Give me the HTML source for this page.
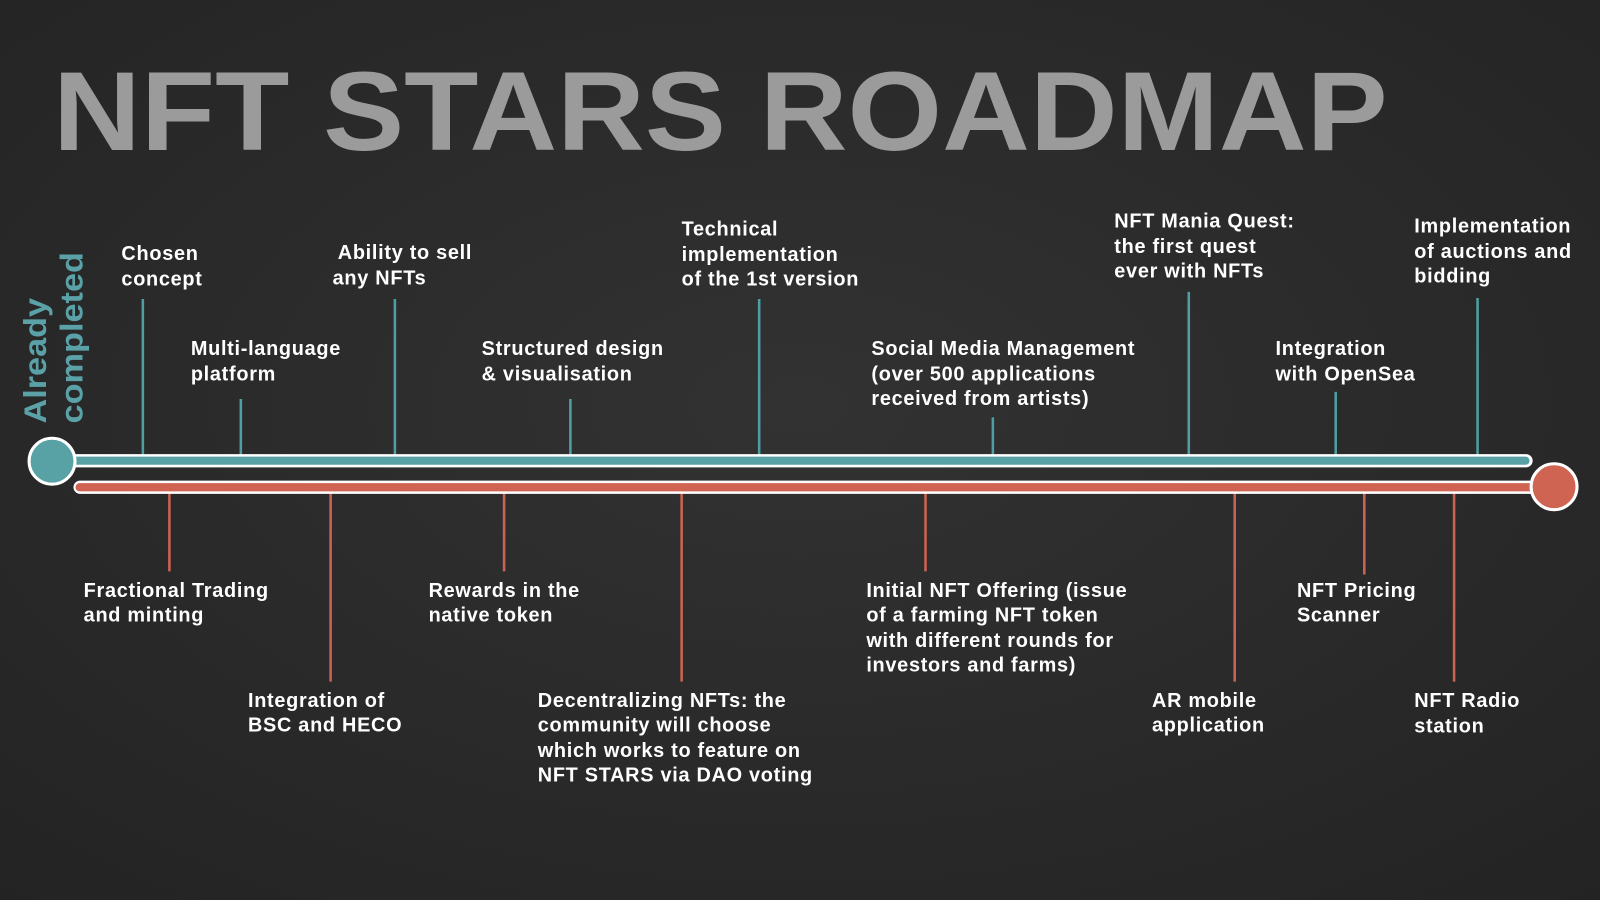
<!DOCTYPE html>
<html><head><meta charset="utf-8"><style>
html,body{margin:0;padding:0;background:#2a2a2a;}
svg{display:block;}
.l{font-family:"Liberation Sans",sans-serif;font-weight:bold;font-size:19.5px;letter-spacing:0.7px;fill:#fff;}
</style></head><body>
<svg width="1600" height="900" viewBox="0 0 1568 882" preserveAspectRatio="none" xmlns="http://www.w3.org/2000/svg">
<defs>
<radialGradient id="bg" cx="50%" cy="45%" r="75%">
<stop offset="0" stop-color="#323232"/><stop offset="1" stop-color="#232323"/>
</radialGradient>
</defs>
<rect width="1568" height="882" fill="url(#bg)"/>
<text x="52" y="147" textLength="1308" lengthAdjust="spacingAndGlyphs" font-family="Liberation Sans,sans-serif" font-weight="bold" font-size="110" fill="#9b9b9b">NFT STARS ROADMAP</text>
<g font-family="Liberation Sans,sans-serif" font-weight="bold" font-size="31" fill="#5aa2a7">
<text transform="translate(45,415) rotate(-90)" textLength="123" lengthAdjust="spacingAndGlyphs">Already</text>
<text transform="translate(81,415) rotate(-90)" textLength="168" lengthAdjust="spacingAndGlyphs">completed</text>
</g>
<g stroke="#4f9ea3" stroke-width="2.5">
<line x1="140" y1="293" x2="140" y2="448"/>
<line x1="236" y1="391" x2="236" y2="448"/>
<line x1="387" y1="293" x2="387" y2="448"/>
<line x1="559" y1="391" x2="559" y2="448"/>
<line x1="744" y1="293" x2="744" y2="448"/>
<line x1="973" y1="409" x2="973" y2="448"/>
<line x1="1165" y1="286" x2="1165" y2="448"/>
<line x1="1309" y1="384" x2="1309" y2="448"/>
<line x1="1448" y1="292" x2="1448" y2="448"/>
</g>
<g stroke="#cc6352" stroke-width="2.5">
<line x1="166" y1="480" x2="166" y2="560"/>
<line x1="324" y1="480" x2="324" y2="668"/>
<line x1="494" y1="480" x2="494" y2="560"/>
<line x1="668" y1="480" x2="668" y2="668"/>
<line x1="907" y1="480" x2="907" y2="560"/>
<line x1="1210" y1="480" x2="1210" y2="668"/>
<line x1="1337" y1="480" x2="1337" y2="563"/>
<line x1="1425" y1="480" x2="1425" y2="668"/>
</g>
<rect x="45" y="445" width="1457" height="13" rx="6.5" fill="#fff"/>
<rect x="47" y="447.5" width="1452" height="8" rx="4" fill="#58a2a6"/>
<rect x="72" y="471" width="1455" height="13" rx="6.5" fill="#fff"/>
<rect x="74" y="473.5" width="1450" height="8" rx="4" fill="#cf6453"/>
<circle cx="51" cy="452" r="22.5" fill="#58a2a6" stroke="#fff" stroke-width="3"/>
<circle cx="1523" cy="477" r="22.5" fill="#cf6453" stroke="#fff" stroke-width="3"/>
<text class="l"><tspan x="119" y="255">Chosen</tspan><tspan x="119" y="280">concept</tspan></text>
<text class="l"><tspan x="331" y="254">Ability to sell</tspan><tspan x="326" y="279">any NFTs</tspan></text>
<text class="l"><tspan x="187" y="348">Multi-language</tspan><tspan x="187" y="373">platform</tspan></text>
<text class="l"><tspan x="472" y="348">Structured design</tspan><tspan x="472" y="373">&amp; visualisation</tspan></text>
<text class="l"><tspan x="668" y="231">Technical</tspan><tspan x="668" y="256">implementation</tspan><tspan x="668" y="280">of the 1st version</tspan></text>
<text class="l"><tspan x="854" y="348">Social Media Management</tspan><tspan x="854" y="373">(over 500 applications</tspan><tspan x="854" y="397">received from artists)</tspan></text>
<text class="l"><tspan x="1092" y="223">NFT Mania Quest:</tspan><tspan x="1092" y="248">the first quest</tspan><tspan x="1092" y="272">ever with NFTs</tspan></text>
<text class="l"><tspan x="1250" y="348">Integration</tspan><tspan x="1250" y="373">with OpenSea</tspan></text>
<text class="l"><tspan x="1386" y="228">Implementation</tspan><tspan x="1386" y="253">of auctions and</tspan><tspan x="1386" y="277">bidding</tspan></text>
<text class="l"><tspan x="82" y="585">Fractional Trading</tspan><tspan x="82" y="609">and minting</tspan></text>
<text class="l"><tspan x="243" y="693">Integration of</tspan><tspan x="243" y="717">BSC and HECO</tspan></text>
<text class="l"><tspan x="420" y="585">Rewards in the</tspan><tspan x="420" y="609">native token</tspan></text>
<text class="l"><tspan x="527" y="693">Decentralizing NFTs: the</tspan><tspan x="527" y="717">community will choose</tspan><tspan x="527" y="742">which works to feature on</tspan><tspan x="527" y="766">NFT STARS via DAO voting</tspan></text>
<text class="l"><tspan x="849" y="585">Initial NFT Offering (issue</tspan><tspan x="849" y="609">of a farming NFT token</tspan><tspan x="849" y="634">with different rounds for</tspan><tspan x="849" y="658">investors and farms)</tspan></text>
<text class="l"><tspan x="1129" y="693">AR mobile</tspan><tspan x="1129" y="717">application</tspan></text>
<text class="l"><tspan x="1271" y="585">NFT Pricing</tspan><tspan x="1271" y="609">Scanner</tspan></text>
<text class="l"><tspan x="1386" y="693">NFT Radio</tspan><tspan x="1386" y="718">station</tspan></text>
</svg>
</body></html>
